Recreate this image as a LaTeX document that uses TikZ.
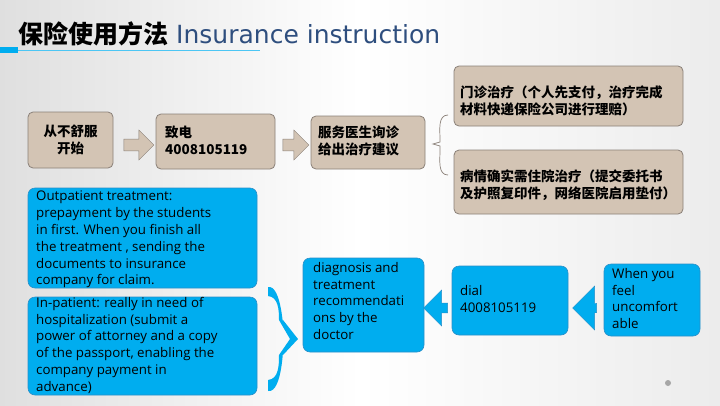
\documentclass[tikz,border=0pt]{standalone}
\usepackage{fontspec}
\setmainfont{Open Sans}
\newfontfamily\cjk{Noto Sans CJK SC}
\usetikzlibrary{shapes.arrows,decorations.pathreplacing}
\definecolor{tan}{HTML}{D3C4B4}
\definecolor{tanedge}{HTML}{8A8078}
\definecolor{sky}{HTML}{00ADEF}
\definecolor{skyedge}{HTML}{2A8FC8}
\definecolor{ttl}{HTML}{2E4E7E}
\tikzset{
 tanbox/.style={draw=tanedge,fill=tan,rounded corners=5pt,line width=0.8pt,inner sep=0pt},
 bluebox/.style={draw=skyedge,fill=sky,rounded corners=7pt,line width=0.6pt,inner sep=0pt},
 txt/.style={font=\cjk\bfseries\fontsize{13.5}{17}\selectfont,align=left,anchor=north west,inner sep=0pt},
 etxt/.style={font=\fontsize{13.3}{16.8}\selectfont,align=left,anchor=north west,inner sep=0pt},
}
\begin{document}
\begin{tikzpicture}[x=1pt,y=-1pt]
\shade[left color=gray!25,right color=gray!15,middle color=white] (0,0) rectangle (720,405);
\useasboundingbox (0,0) rectangle (720,405);
% title
\node[anchor=base west,inner sep=0pt] (title) at (18,43) {{\cjk\bfseries\fontsize{25}{26}\selectfont 保险使用方法}\hspace{8pt}{\color{ttl}\fontspec{DejaVu Sans}\fontsize{25}{26}\selectfont Insurance instruction}};
\draw[sky!70!white,line width=0.8pt] (18,50) -- (260,50);
\fill[sky] (0,47) rectangle (18,53);
% tan row
\draw[tanbox] (28,112) rectangle (113,168); \node[font=\cjk\bfseries\fontsize{13.5}{17}\selectfont,align=center] (t1) at (70.5,140) {从不舒服\\开始};
\draw[tanbox] (156,114) rectangle (275,169); \node[txt] (t2) at (165,126) {致电\\4008105119};
\draw[tanbox] (311,116) rectangle (425,169); \node[txt] (t3) at (318,126) {服务医生询诊\\给出治疗建议};
\draw[tanbox] (454,66) rectangle (683,126); \node[txt] (t4) at (460,86) {门诊治疗（个人先支付，治疗完成\\材料快递保险公司进行理赔）};
\draw[tanbox] (454,150) rectangle (683,214); \node[txt] (t5) at (460,170) {病情确实需住院治疗（提交委托书\\及护照复印件，网络医院启用垫付）};
\node[single arrow,draw=tanedge,fill=tan,minimum height=30pt,minimum width=30pt,single arrow head extend=5pt,inner sep=3pt] (a1) at (136,145) {};
\node[single arrow,draw=tanedge,fill=tan,minimum height=26pt,minimum width=30pt,single arrow head extend=5pt,inner sep=3pt] (a2) at (293,145) {};
\draw[tanedge,line width=0.7pt] (448,115) to[out=180,in=90] (440,140) -- (440,142) -- (433,144) -- (440,146) -- (440,150) to[out=-90,in=180] (448,175);
% blue
\draw[bluebox] (28,188) rectangle (257,288);
\node[etxt] (b1) at (36,191) {Outpatient treatment:\\prepayment by the students\\in first. When you finish all\\the treatment , sending the\\documents to insurance\\company for claim.};
\draw[bluebox] (28,297) rectangle (257,395);
\node[etxt] (b2) at (36,297) {In-patient: really in need of\\hospitalization (submit a\\power of attorney and a copy\\of the passport, enabling the\\company payment in\\advance)};
\fill[sky] (268,287) to[out=10,in=-90] (283,320) -- (298,339) -- (283,355) to[out=90,in=-10] (268,391) -- (268,380) to[out=5,in=-90] (279,355) -- (290,339) -- (279,320) to[out=90,in=-5] (268,296) -- cycle;
\draw[bluebox] (303,258) rectangle (424,352);
\node[etxt] (b3) at (313,262) {diagnosis and\\treatment\\recommendati\\ons by the\\doctor};
\draw[bluebox] (452,266) rectangle (568,335);
\node[etxt] (b4) at (460,285) {dial\\4008105119};
\draw[bluebox] (604,264) rectangle (700,336);
\node[etxt] (b5) at (612,268) {When you\\feel\\uncomfort\\able};
\node[single arrow,fill=sky,draw=skyedge,shape border rotate=180,minimum height=24pt,minimum width=36pt,single arrow head extend=6pt,inner sep=2pt] (a3) at (438,308) {};
\node[single arrow,fill=sky,draw=skyedge,shape border rotate=180,minimum height=24pt,minimum width=44pt,single arrow head extend=8pt,inner sep=2pt] (a4) at (587,308) {};
\fill[gray!70] (668,383) circle (3);
\end{tikzpicture}
\end{document}
